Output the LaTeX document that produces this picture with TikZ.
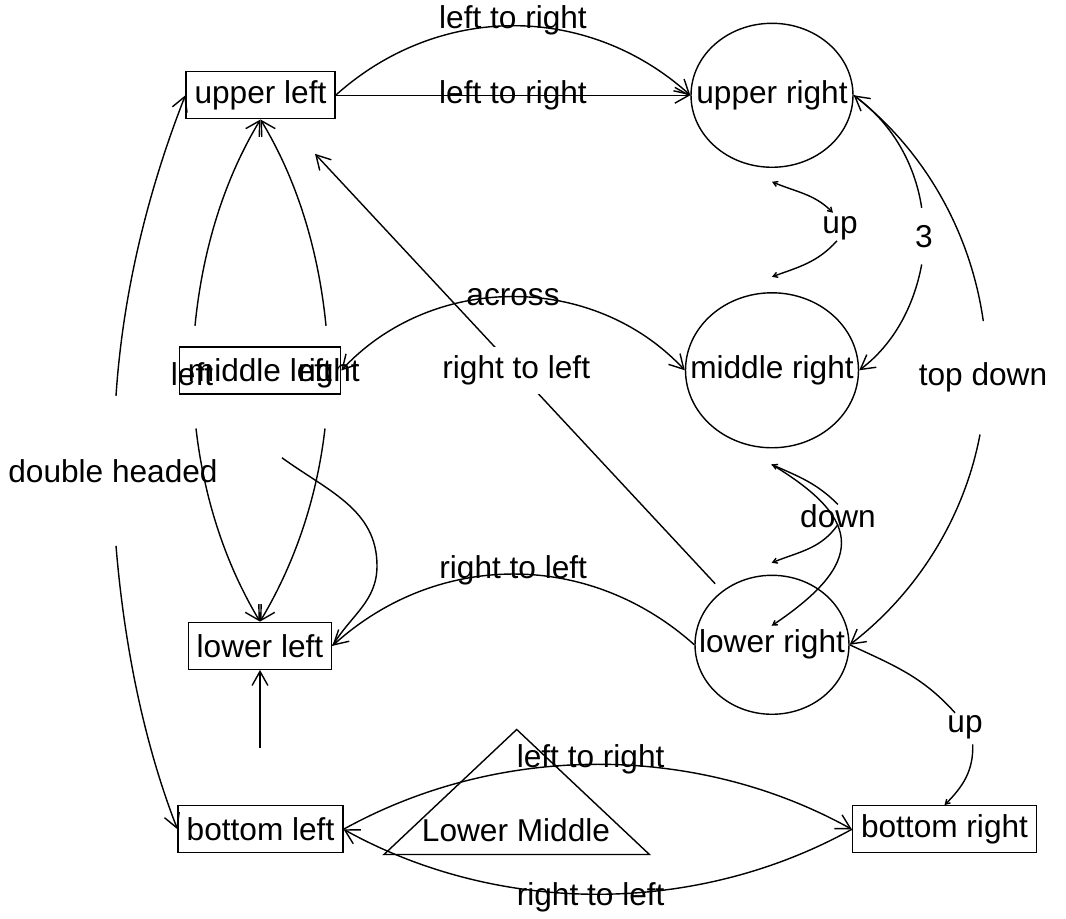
\documentclass[tikz,border=0pt]{standalone}
\usepackage{fontspec}
\setmainfont{Liberation Sans}
\usepackage{tikz}
\usetikzlibrary{arrows.meta, shapes.geometric, positioning}

\tikzset{
  box/.style={draw, rectangle, inner xsep=0.17cm, minimum height=0.94cm},
  oval/.style={draw, ellipse, inner sep=0pt},
  arr/.style={-{Straight Barb[length=8pt,width=9pt]}},
  twoway/.style={{Straight Barb[length=8pt,width=9pt]}-{Straight Barb[length=8pt,width=9pt]}},
  smallhead/.style={-{Straight Barb[length=2.5pt,width=3pt]}},
  smallboth/.style={{Straight Barb[length=2.5pt,width=3pt]}-{Straight Barb[length=2.5pt,width=3pt]}}
}

\begin{document}
\begin{tikzpicture}[x=0.02cm, y=0.02cm, line width=0.8pt, font=\fontsize{18}{21}\selectfont]
    \fill[white] (0,0) rectangle (1066,-915);

    % Define the nodes
    \node[box] (ul) at (260.5,-92.5) {upper left};
    \node[box] (ml) at (260,-367.7) {middle left};
    \node[box] (ll) at (260,-643) {lower left};
    \node[box] (bl) at (260.5,-826.5) {bottom left};
    \node[box] (br) at (944.5,-826.5) {bottom right};
    \node[oval, minimum width=3.24cm, minimum height=2.88cm] (ur) at (772,-92.5) {\makebox[0pt]{upper right}};
    \node[oval, minimum width=3.46cm, minimum height=3.10cm] (mr) at (772,-367.5) {\makebox[0pt]{middle right}};
    \node[oval, minimum width=3.08cm, minimum height=2.78cm] (lr) at (772,-642) {\makebox[0pt]{lower right}};
    \node (lm) at (516,-827) {Lower Middle};
    \draw (384,-851.7) -- (516.7,-726.7) -- (649.4,-851.7) -- cycle;

    % Define the loose ends of the split arcs
    \coordinate (upT) at (772,-179);
    \coordinate (upA) at (833,-210);
    \coordinate (upB) at (837,-238);
    \coordinate (upM) at (772,-274);
    \coordinate (thA) at (921.7,-205);
    \coordinate (thB) at (921.7,-261.7);
    \coordinate (tdA) at (983.3,-318.3);
    \coordinate (tdB) at (980,-431.7);
    \coordinate (mlTL) at (195,-323);
    \coordinate (mlTR) at (326,-323);
    \coordinate (mlBL) at (196,-425.7);
    \coordinate (mlBR) at (325,-425.7);
    \coordinate (mlC) at (282,-455);
    \coordinate (mlCm) at (377,-563);
    \coordinate (dhA) at (116,-393);
    \coordinate (dhB) at (116,-543);
    \coordinate (dnT) at (771.7,-461.7);
    \coordinate (dnA) at (838,-501.7);
    \coordinate (dnB) at (838,-521.7);
    \coordinate (dnE) at (771.7,-560);
    \coordinate (dnF) at (771.7,-623);
    \coordinate (lbA) at (955,-710);
    \coordinate (lbB) at (972.7,-741.7);
    \coordinate (blUp) at (260,-745);

    % Straight one across the middle
    \draw[arr, shorten <=1.67cm, shorten >=1.6cm] (lr.center) -- node[fill=white, minimum height=0.94cm] {right to left} (ul.center);

    % Top row
    \draw[arr] (ul.east) -- node {left to right} (ur.west);
    \draw[arr] (ul.east) to[bend left=42] node[yshift=3pt] {left to right} (ur.west);

    % Right column
    \draw[smallboth] (upA) to[out=135,in=-23] (upT);
    \draw[smallhead] (upB) to[out=-132,in=20] (upM);
    \node (upL) at (840,-225) {up};
    \draw (ur.east) .. controls +(-35.7:46) and +(98.7:46) .. (thA);
    \draw[arr] (thB) .. controls +(-100.6:43) and +(37:43) .. (mr.east);
    \node (thL) at (924,-234) {3};
    \draw[arr] (tdA) .. controls +(98.1:90) and +(-38:90) .. (ur.east);
    \draw[arr] (tdB) .. controls +(-100.7:85) and +(37.6:85) .. (lr.east);
    \node (tdL) at (983,-375) {top down};
    \draw[smallhead] (dnA) to[out=135,in=-24] (dnT);
    \draw[smallhead] (dnB) to[out=-125,in=22] (dnE);
    \draw[smallhead] (dnT) .. controls +(-31:110) and +(34:110) .. (dnF);
    \node (dnL) at (838,-513) {down};

    % Middle row
    \draw[twoway] (ml.east) to[bend left=47] node {across} (mr.west);

    % Left column
    \draw[arr] (mlTL) .. controls +(84.4:73) and +(238.8:73) .. (ul.south);
    \draw[arr] (mlTR) .. controls +(95.6:73) and +(301.2:73) .. (ul.south);
    \draw[arr] (mlBL) .. controls +(-83.4:69) and +(120.9:69) .. (ll.north);
    \draw[arr] (mlBR) .. controls +(-96.6:69) and +(59.1:69) .. (ll.north);
    \node (lfL) at (192,-371) {left};
    \node (rtL) at (329,-371) {right};
    \draw (mlC) to[out=-36,in=90] (mlCm) to[out=-90,in=59] (ll.east);
    \draw[arr] (dhA) .. controls +(86.2:103) and +(248.6:103) .. (ul.west);
    \draw[arr] (dhB) .. controls +(-85.3:96) and +(111.2:96) .. (bl.west);
    \node (dhL) at (113,-468) {double headed};
    \draw[arr] (blUp) -- (ll.south);

    % Lower row
    \draw[arr] (lr.west) to[bend right=42] node[yshift=2pt] {right to left} (ll.east);
    \draw (lr.east) to[out=-25,in=132] (lbA);
    \draw[smallhead] (lbB) to[out=-88,in=45] (br.north);
    \node (lbL) at (965,-724) {up};

    % Bottom row
    \draw[arr] (bl.east) to[bend left=29, looseness=0.9] node[xshift=-4pt, yshift=3pt] {left to right} (br.west);
    \draw[arr] (br.west) to[bend left=29, looseness=0.9] node[xshift=-4pt, yshift=-2pt] {right to left} (bl.east);
\end{tikzpicture}
\end{document}
